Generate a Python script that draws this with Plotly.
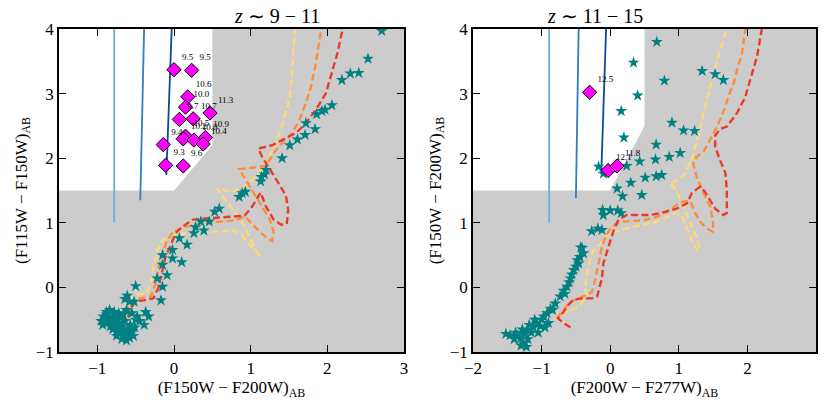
import plotly.graph_objects as go

GRAY = "#cccccc"
TEAL = "#008080"
MAGENTA = "#ff00ff"
TRACK_COLORS = {"yellow": "#fed976", "orange": "#fd8d3c", "red": "#ec3a2a"}
BLUE_COLORS = ["#6baed6", "#2f7fc1", "#0b4a96"]
FONT = "Liberation Serif"

# ---------------- left panel: z ~ 9-11 ----------------
L_WHITE_X = [-1.5, 0.0, 0.5, 0.5, -1.5]
L_WHITE_Y = [1.5, 1.5, 2.2, 4.0, 4.0]

L_BLUE = [([-0.78, -0.78], [4.0, 1.01]),
          ([-0.39, -0.44], [4.0, 1.35]),
          ([-0.03, -0.10], [4.0, 1.74])]

L_RED_X = [-0.74, -0.60, -0.55, -0.50, -0.40, -0.27, -0.20, -0.15, -0.11, -0.04, 0.02, 0.12,
           0.25, 0.45, 0.67, 0.92, 1.02, 1.13, 1.20, 1.30, 1.40, 1.47, 1.49, 1.46, 1.38, 1.26,
           1.15, 1.10, 1.28, 1.41, 1.59, 1.72, 1.85, 1.98, 2.06, 2.13, 2.20]
L_RED_Y = [-0.50, -0.45, -0.30, -0.22, -0.20, -0.17, 0.00, 0.27, 0.48, 0.66, 0.84, 0.95,
           1.05, 1.07, 1.09, 1.11, 1.25, 1.47, 1.25, 1.05, 0.97, 0.98, 1.20, 1.42, 1.58, 1.82,
           2.02, 2.15, 2.20, 2.28, 2.39, 2.54, 2.75, 3.00, 3.31, 3.62, 4.00]

L_ORANGE_X = [-0.75, -0.62, -0.57, -0.45, -0.30, -0.24, -0.20, -0.15, -0.10, -0.02, 0.10, 0.30,
              0.55, 0.80, 0.92, 1.02, 1.12, 1.22, 1.28, 1.30, 1.25, 1.15, 1.02, 0.92, 0.85, 1.00,
              1.20, 1.30, 1.40, 1.52, 1.62, 1.72, 1.79, 1.84, 1.88, 1.92]
L_ORANGE_Y = [-0.45, -0.40, -0.22, -0.17, -0.14, 0.06, 0.32, 0.52, 0.70, 0.85, 0.92, 0.98,
              1.01, 1.04, 1.10, 0.98, 0.86, 0.76, 0.72, 0.85, 1.05, 1.25, 1.50, 1.68, 1.83, 1.85,
              1.88, 2.08, 2.22, 2.36, 2.55, 2.85, 3.12, 3.40, 3.70, 4.00]

L_YELLOW_X = [-0.72, -0.65, -0.62, -0.50, -0.35, -0.30, -0.26, -0.22, -0.16, -0.05, 0.15, 0.40,
              0.60, 0.78, 0.88, 0.95, 1.02, 1.13, 1.07, 0.98, 0.89, 0.80, 0.72, 0.64, 0.56, 0.76,
              0.93, 1.11, 1.20, 1.30, 1.39, 1.47, 1.51, 1.54, 1.56, 1.58]
L_YELLOW_Y = [-0.48, -0.42, -0.25, -0.12, -0.08, 0.10, 0.35, 0.55, 0.72, 0.80, 0.84, 0.86,
              0.87, 0.88, 0.82, 0.70, 0.62, 0.48, 0.56, 0.80, 1.00, 1.15, 1.27, 1.40, 1.53, 1.48,
              1.56, 1.77, 1.92, 2.15, 2.44, 2.75, 2.95, 3.30, 3.70, 4.00]

L_STAR_X = [2.71, 2.53, 2.41, 2.30, 2.19, 2.06, 1.97, 1.93, 1.86, 1.72, 1.84, 1.71, 1.61, 1.51,
            1.41, 1.20, 1.14, 1.13, 1.18, 0.89, 0.85, 0.93,
            0.59, 0.53, 0.46, 0.35, 0.28, 0.39, 0.26, 0.07, 0.17, -0.02, -0.15, -0.02, 0.10,
            -0.15, -0.09, -0.22, -0.50, -0.15, -0.17,
            -0.52, -0.61, -0.37, -0.33, -0.48, -0.39, -0.56, -0.58, -0.64,
            -0.92, -0.90, -0.88, -0.86, -0.85, -0.83, -0.82, -0.80, -0.80, -0.78, -0.77, -0.75,
            -0.74, -0.72, -0.71, -0.70, -0.68, -0.67, -0.65, -0.64, -0.62, -0.60, -0.58, -0.57,
            -0.55, -0.53, -0.51, -0.88, -0.84, -0.78, -0.72, -0.66, -0.62, -0.55, -0.50, -0.45,
            -0.68, -0.62, -0.75, -0.95, -0.93]
L_STAR_Y = [3.97, 3.54, 3.32, 3.31, 3.21, 2.82, 2.75, 2.73, 2.68, 2.54, 2.45, 2.36, 2.29, 2.20,
            2.00, 1.82, 1.71, 1.64, 1.75, 1.46, 1.40, 1.48,
            1.22, 1.17, 1.02, 1.02, 0.93, 0.88, 0.84, 0.76, 0.66, 0.58, 0.50, 0.45, 0.39,
            0.35, 0.19, 0.14, 0.02, 0.01, -0.20,
            -0.22, -0.13, -0.38, -0.45, -0.45, -0.58, -0.71, -0.22, -0.18,
            -0.45, -0.50, -0.42, -0.55, -0.48, -0.60, -0.52, -0.45, -0.65, -0.58, -0.50, -0.68,
            -0.62, -0.55, -0.72, -0.47, -0.66, -0.60, -0.75, -0.52, -0.70, -0.64, -0.78, -0.58,
            -0.68, -0.75, -0.62, -0.38, -0.35, -0.38, -0.40, -0.42, -0.35, -0.40, -0.50, -0.52,
            -0.80, -0.82, -0.75, -0.52, -0.58]

L_DIA_X = [0.00, 0.23, 0.18, 0.15, 0.07, 0.25, 0.47, 0.15, 0.12, 0.26, 0.41, 0.38, -0.14, -0.11, 0.12]
L_DIA_Y = [3.37, 3.36, 2.95, 2.79, 2.60, 2.61, 2.70, 2.34, 2.30, 2.28, 2.32, 2.22, 2.21, 1.89, 1.88]
L_DIA_LABELS = ["9.5", "9.5", "10.6", "10.0", "9.7", "10.7", "11.3", "10.5", "10.2", "10.0",
                "10.9", "10.4", "9.4", "9.3", "9.6"]

# ---------------- right panel: z ~ 11-15 ----------------
R_WHITE_X = [-2.0, 0.0, 0.5, 0.5, -2.0]
R_WHITE_Y = [1.5, 1.5, 2.5, 4.0, 4.0]

R_BLUE = [([-0.89, -0.89], [4.0, 1.0]),
          ([-0.46, -0.50], [4.0, 1.38]),
          ([-0.06, -0.13], [4.0, 1.77])]

R_RED_X = [-0.58, -0.68, -0.76, -0.68, -0.62, -0.53, -0.41, -0.27, -0.19, -0.15, -0.12, -0.10,
           -0.05, 0.00, 0.05, 0.12, 0.24, 0.58, 0.73, 0.97, 1.12, 1.19, 1.31, 1.38, 1.48, 1.53,
           1.65, 1.70, 1.70, 1.70, 1.68, 1.60, 1.53, 1.53, 1.60, 1.70, 1.85, 1.97, 2.04, 2.14,
           2.21]
R_RED_Y = [-0.62, -0.55, -0.48, -0.38, -0.28, -0.19, -0.17, -0.17, -0.14, 0.01, 0.15, 0.37,
           0.55, 0.73, 0.88, 1.05, 1.12, 1.12, 1.15, 1.22, 1.30, 1.46, 1.56, 1.48, 1.30, 1.22,
           1.12, 1.15, 1.33, 1.50, 1.77, 1.97, 2.18, 2.35, 2.45, 2.49, 2.70, 2.95, 3.21, 3.57,
           4.00]

R_ORANGE_X = [-0.78, -0.68, -0.58, -0.45, -0.34, -0.27, -0.24, -0.19, -0.15, -0.12, -0.07, 0.00,
              0.08, 0.19, 0.49, 0.68, 0.87, 0.97, 1.07, 1.17, 1.24, 1.31, 1.41, 1.50, 1.50, 1.46,
              1.41, 1.31, 1.26, 1.21, 1.26, 1.36, 1.43, 1.51, 1.60, 1.68, 1.72, 1.80, 1.85, 1.92,
              1.97]
R_ORANGE_Y = [-0.48, -0.35, -0.22, -0.16, -0.12, -0.07, 0.01, 0.27, 0.48, 0.63, 0.78, 0.91,
              0.98, 1.02, 1.04, 1.09, 1.20, 1.28, 1.33, 1.33, 1.15, 1.02, 0.91, 0.86, 1.00, 1.25,
              1.35, 1.61, 1.71, 1.92, 2.02, 2.10, 2.23, 2.39, 2.59, 2.80, 2.95, 3.16, 3.37, 3.62,
              4.00]

R_YELLOW_X = [-0.60, -0.70, -0.78, -0.65, -0.52, -0.44, -0.36, -0.36, -0.33, -0.29, -0.24, -0.15,
              -0.05, 0.05, 0.30, 0.58, 0.73, 0.95, 1.05, 1.12, 1.20, 1.27, 1.31, 1.25, 1.17, 1.08,
              1.00, 0.93, 0.87, 0.98, 1.06, 1.12, 1.21, 1.27, 1.31, 1.36, 1.43, 1.48, 1.56, 1.65,
              1.69]
R_YELLOW_Y = [-0.60, -0.52, -0.48, -0.38, -0.33, -0.27, -0.17, 0.06, 0.25, 0.45, 0.58, 0.66,
              0.80, 0.86, 0.93, 0.99, 1.04, 1.15, 1.10, 0.90, 0.70, 0.57, 0.60, 0.80, 1.00, 1.22,
              1.42, 1.55, 1.61, 1.66, 1.72, 1.82, 2.05, 2.30, 2.44, 2.70, 3.00, 3.21, 3.52, 3.83,
              4.00]

R_STAR_X = [0.68, 0.34, 0.79, 1.34, 1.53, 1.65, 0.40, 0.16, 0.90, 1.07, 1.23, 0.20, 0.67, 1.02,
            0.86, 0.66, 0.43, 0.24, -0.17, -0.10, 0.30, 0.51, 0.67, 0.75, 0.10, 0.18, 0.46,
            -0.11, 0.00, 0.11, 0.16, -0.10, -0.27, -0.18, -0.12, -0.43, -0.39, -0.44, -0.41,
            -0.46, -0.53, -0.58, -0.63, -0.73, -0.87, -0.97, -1.07, -1.21, -1.31, -1.46, -1.26,
            -0.48, -0.50, -0.56, -0.60, -0.68, -0.66, -0.80, -0.84, -0.92, -1.00, -1.02, -1.10,
            -1.12, -1.15, -1.18, -1.25, -1.28, -1.35, -1.40, -1.30, -1.20, -1.05, -0.95, -0.90,
            -1.38, -1.52, -1.22]
R_STAR_Y = [3.80, 3.48, 3.20, 3.35, 3.30, 3.21, 2.97, 2.73, 2.55, 2.43, 2.42, 2.32, 2.21, 2.08,
            2.02, 1.98, 1.95, 1.88, 1.87, 1.76, 1.62, 1.70, 1.72, 1.74, 1.53, 1.41, 1.43,
            1.20, 1.19, 1.19, 1.15, 1.12, 0.87, 0.91, 0.89, 0.62, 0.53, 0.47, 0.61,
            0.37, 0.27, 0.14, 0.01, -0.14, -0.33, -0.45, -0.55, -0.66, -0.79, -0.74, -0.87,
            0.42, 0.32, 0.20, 0.08, -0.05, -0.10, -0.25, -0.35, -0.40, -0.50, -0.60, -0.50,
            -0.62, -0.70, -0.58, -0.72, -0.65, -0.75, -0.80, -0.90, -0.80, -0.70, -0.62, -0.55,
            -0.70, -0.72, -0.92]

R_DIA_X = [-0.30, -0.03, 0.10]
R_DIA_Y = [3.02, 1.81, 1.88]
R_DIA_LABELS = ["12.5", "12.1", "11.8"]

PANELS = [
    dict(xa="x", ya="y", white=(L_WHITE_X, L_WHITE_Y), blue=L_BLUE,
         tracks=[("yellow", L_YELLOW_X, L_YELLOW_Y), ("orange", L_ORANGE_X, L_ORANGE_Y),
                 ("red", L_RED_X, L_RED_Y)],
         stars=(L_STAR_X, L_STAR_Y), dia=(L_DIA_X, L_DIA_Y, L_DIA_LABELS)),
    dict(xa="x2", ya="y2", white=(R_WHITE_X, R_WHITE_Y), blue=R_BLUE,
         tracks=[("yellow", R_YELLOW_X, R_YELLOW_Y), ("orange", R_ORANGE_X, R_ORANGE_Y),
                 ("red", R_RED_X, R_RED_Y)],
         stars=(R_STAR_X, R_STAR_Y), dia=(R_DIA_X, R_DIA_Y, R_DIA_LABELS)),
]

fig = go.Figure()
for p in PANELS:
    ax = dict(xaxis=p["xa"], yaxis=p["ya"], showlegend=False, hoverinfo="skip")
    wx, wy = p["white"]
    fig.add_scatter(x=wx, y=wy, fill="toself", fillcolor="white", mode="lines",
                    line=dict(width=0), **ax)
    for (bx, by), col in zip(p["blue"], BLUE_COLORS):
        fig.add_scatter(x=bx, y=by, mode="lines", line=dict(color=col, width=1.8), **ax)
    for name, tx, ty in p["tracks"]:
        fig.add_scatter(x=tx, y=ty, mode="lines",
                        line=dict(color=TRACK_COLORS[name], width=2.4, dash="7px,3.5px"), **ax)
    sx, sy = p["stars"]
    fig.add_scatter(x=sx, y=sy, mode="markers",
                    marker=dict(symbol="star", size=9, color=TEAL, line=dict(width=0)), **ax)
    dx, dy, lab = p["dia"]
    fig.add_scatter(x=dx, y=dy, mode="markers+text", text=lab, textposition="top right",
                    textfont=dict(family=FONT, size=9, color="black"),
                    marker=dict(symbol="diamond", size=11, color=MAGENTA,
                                line=dict(color="black", width=1)), **ax)

axis_common = dict(showgrid=False, zeroline=False, ticks="inside", ticklen=7, tickwidth=1.3,
                   tickcolor="black", mirror="allticks", showline=True, linecolor="black",
                   linewidth=1.6, automargin=False,
                   tickfont=dict(family=FONT, size=17, color="black"),
                   title_font=dict(family=FONT, size=17, color="black"))

# the page body adds an 8 px offset, so pixel positions are shifted back by 8
W, H, OFF = 831, 404, 8
fig.update_layout(
    width=W, height=H, margin=dict(l=0, r=0, t=0, b=0),
    paper_bgcolor="white", plot_bgcolor=GRAY,
    xaxis=dict(domain=[(59 - OFF) / W, (404 - OFF) / W], range=[-1.5, 3],
               tickvals=[-1, 0, 1, 2, 3],
               title=dict(text="(F150W − F200W)<sub>AB</sub>", standoff=4), **axis_common),
    yaxis=dict(domain=[1 - (352 - OFF) / H, 1 - (29 - OFF) / H], range=[-1, 4],
               tickvals=[-1, 0, 1, 2, 3, 4],
               title=dict(text="(F115W − F150W)<sub>AB</sub>", standoff=4), **axis_common),
    xaxis2=dict(domain=[(473 - OFF) / W, (816 - OFF) / W], range=[-2, 3],
                tickvals=[-2, -1, 0, 1, 2], anchor="y2",
                title=dict(text="(F200W − F277W)<sub>AB</sub>", standoff=4), **axis_common),
    yaxis2=dict(domain=[1 - (352 - OFF) / H, 1 - (29 - OFF) / H], range=[-1, 4],
                tickvals=[-1, 0, 1, 2, 3, 4], anchor="x2",
                title=dict(text="(F150W − F200W)<sub>AB</sub>", standoff=4), **axis_common),
    annotations=[
        dict(text="<i>z</i> ∼ 9 − 11", x=((59 + 404) / 2 - OFF) / W, y=1 - (16 - OFF) / H,
             xref="paper", yref="paper", yanchor="middle", showarrow=False,
             font=dict(family=FONT, size=20, color="black")),
        dict(text="<i>z</i> ∼ 11 − 15", x=((473 + 816) / 2 - OFF) / W, y=1 - (16 - OFF) / H,
             xref="paper", yref="paper", yanchor="middle", showarrow=False,
             font=dict(family=FONT, size=20, color="black")),
    ],
)

fig.write_html("out.html")
